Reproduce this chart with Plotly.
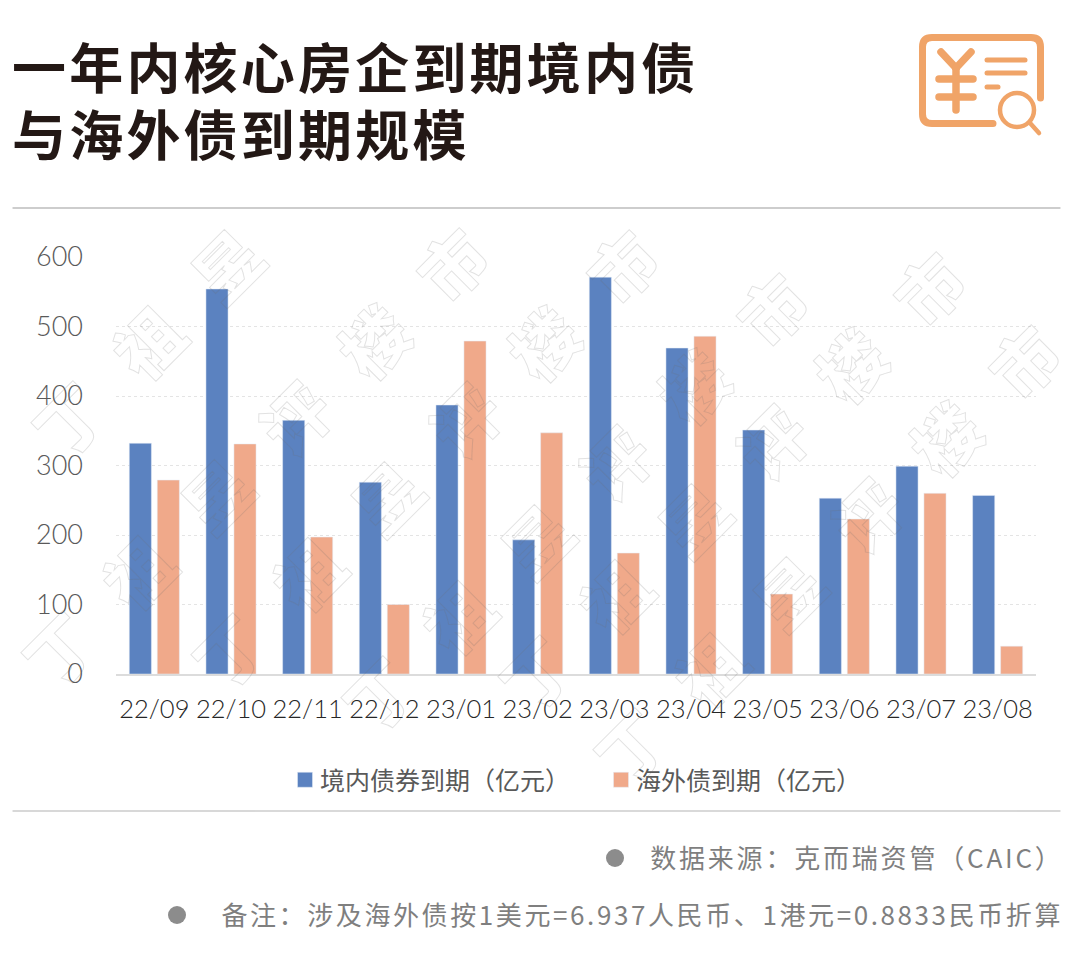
import plotly.graph_objs as go

W, H = 1080, 965
L, R, T, B = 116, 1036, 257, 674

months = ['22/09','22/10','22/11','22/12','23/01','23/02','23/03','23/04','23/05','23/06','23/07','23/08']
onshore = [332,554,365,276,387,193,571,469,351,253,299,257]
offshore = [279,331,197,100,479,347,174,486,115,223,260,40]
y_ticks = [0,100,200,300,400,500,600]

title_lines = ['一年内核心房企到期境内债','与海外债到期规模']
source_text = '数据来源：克而瑞资管（CAIC）'
note_text = '备注：涉及海外债按1美元=6.937人民币、1港元=0.8833民币折算'
mark_chars = '丁祖昱评楼市'
# first character of each diagonal watermark row in page pixels, and how many characters are visible
mark_rows = [(58,648,6),(68,418,3),(228,650,6),(378,693,6),(535,672,6),(630,745,6)]

BLUE = '#5b82c0'
PEACH = '#f0a98a'
ICON = '#f0a468'
CJK = 'Noto Sans CJK SC'

# page pixels to paper fractions (paper = the plot area)
def px(x): return (x-L)/(R-L)
def py(y): return (B-y)/(B-T)

def note(x, y, text, size, color, anchor='left', weight=400):
    return dict(x=px(x), y=py(y), xref='paper', yref='paper', text=text, showarrow=False,
                xanchor=anchor, yanchor='middle', font=dict(family=CJK, size=size, color=color, weight=weight))

def line(x0, y0, x1, y1, color=ICON, width=6.5):
    return dict(type='line', xref='paper', yref='paper', x0=px(x0), y0=py(y0), x1=px(x1), y1=py(y1),
                line=dict(color=color, width=width), layer='above')

traces = [go.Bar(x=months, y=onshore, name='境内债券到期（亿元）', marker_color=BLUE),
          go.Bar(x=months, y=offshore, name='海外债到期（亿元）', marker_color=PEACH)]

shapes = [line(13,208,1060,208,'#bdbdbd',1.3), line(13,811,1060,811,'#cccccc',1.3)]
# icon in the top right corner
frame = 'M %f,%f L %f,%f Q %f,%f %f,%f L %f,%f Q %f,%f %f,%f L %f,%f Q %f,%f %f,%f L %f,%f' % (
    px(1040.5),py(98),px(1040.5),py(47),px(1040.5),py(37.5),px(1031),py(37.5),px(932),py(37.5),px(922.5),py(37.5),px(922.5),py(47),
    px(922.5),py(114),px(922.5),py(123.5),px(932),py(123.5),px(993),py(123.5))
shapes.append(dict(type='path', xref='paper', yref='paper', path=frame, line=dict(color=ICON, width=7), layer='above'))
for seg in [(941,52,956,68),(971,52,956,68),(956,68,956,110),(939,79,973,79),(939,97,973,97)]:
    shapes.append(line(*seg, width=7.5))
for seg in [(987,60,1025,60),(987,73,1025,73),(987,87,998,87)]:
    shapes.append(line(*seg, width=5))
shapes.append(dict(type='circle', xref='paper', yref='paper', x0=px(1000), y0=py(127), x1=px(1034), y1=py(93),
                   line=dict(color=ICON, width=4.5), fillcolor='white', layer='above'))
shapes.append(line(1030,123,1039,133,width=4.5))
for cx, cy in [(615,858),(177,915)]:
    shapes.append(dict(type='circle', xref='paper', yref='paper', x0=px(cx-9), y0=py(cy+9), x1=px(cx+9), y1=py(cy-9),
                       fillcolor='#8c8c8c', line_width=0, layer='above'))

notes = []
for x0, y0, n in mark_rows:
    for i, ch in enumerate(mark_chars[:n]):
        notes.append(dict(x=px(x0+78.5*i), y=py(y0-77*i), xref='paper', yref='paper', text=ch, showarrow=False,
                          xanchor='center', yanchor='middle', textangle=-45,
                          font=dict(family=CJK, size=66, color='#999999', weight=900)))
notes.append(note(10,65,title_lines[0],54,'#231815',weight=700))
notes.append(note(10,132,title_lines[1],54,'#231815',weight=700))
notes.append(note(1066,856,source_text,26,'#7f7f7f',anchor='right'))
notes.append(note(1065,913,note_text,26,'#7f7f7f',anchor='right'))

layout = go.Layout(width=W, height=H, margin=dict(l=L,r=W-R,t=T,b=H-B,pad=0),
                   paper_bgcolor='white', plot_bgcolor='white', barmode='group', bargap=0.27, bargroupgap=0.21,
                   showlegend=True, shapes=shapes, annotations=notes,
                   legend=dict(orientation='h', x=px(285), y=py(780), xanchor='left', yanchor='middle',
                               font=dict(family=CJK, size=25, color='#595959'), entrywidth=271,
                               traceorder='normal', bgcolor='rgba(0,0,0,0)'))
fig = go.Figure(data=traces, layout=layout)
fig.update_xaxes(type='category', showgrid=False, showline=True, linecolor='#dcdcdc', linewidth=1.5, ticks='',
                 tickfont=dict(family='Lato', size=25.5, color='#262626', weight=300), ticklabelstandoff=12)
fig.update_yaxes(range=[0,600], tickvals=y_ticks, showgrid=True, gridcolor='#e4e4e4', griddash='dot', gridwidth=1,
                 zeroline=False, showline=False, ticks='', tickfont=dict(family='Lato', size=27, color='#595959', weight=300),
                 ticklabelstandoff=32)

# letter spacing, outlined watermark, legend swatches: no layout option for these
post = """document.body.style.margin='0';document.body.style.overflow='hidden';
document.querySelectorAll('.annotation-text').forEach(function(t){
  var s=t.textContent, x=parseFloat(t.getAttribute('x'));
  if(s.length==1){t.style.fill='none';t.style.stroke='rgba(110,110,110,0.2)';t.style.strokeWidth='1px';return;}
  var left=s.indexOf('一年内')==0||s.indexOf('与海外')==0;
  var sp=left?3.2:(s.indexOf('备注')==0?2.6:2.8);
  t.style.letterSpacing=sp+'px';
  t.setAttribute('x',x+(left?1:-1)*sp*s.length/2);
});
document.querySelectorAll('.shapelayer path').forEach(function(p){p.style.strokeLinecap='round';});
document.querySelectorAll('.legend .legendpoints path').forEach(function(p){p.setAttribute('d','M7.5,7.5H-7.5V-7.5H7.5Z');});
document.querySelectorAll('.legend .legendtext').forEach(function(t){t.setAttribute('x',parseFloat(t.getAttribute('x'))-5);});
"""
fig.write_html('out.html', post_script=post, config={'displayModeBar': False})
